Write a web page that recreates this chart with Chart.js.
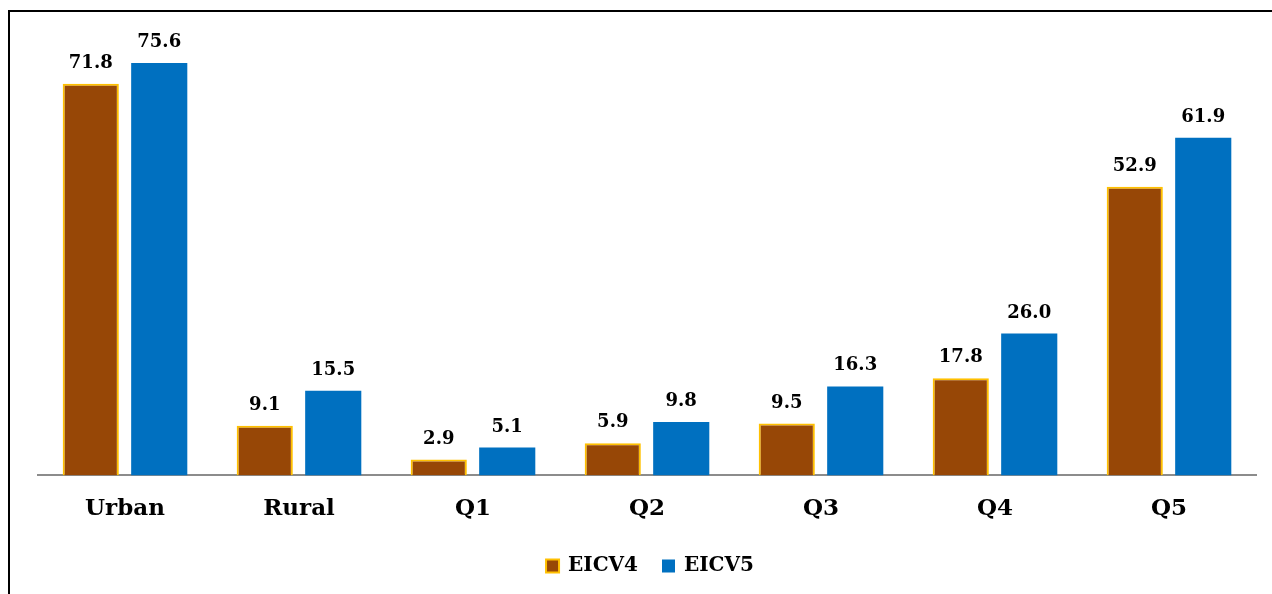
<!DOCTYPE html>
<html>
<head>
<meta charset="utf-8">
<script src="https://cdn.jsdelivr.net/npm/chart.js@4.4.0/dist/chart.umd.min.js"></script>
<style>
  html, body { margin: 0; padding: 0; background: #fff; }
  #wrap { position: relative; width: 1272px; height: 594px; overflow: hidden; }
  #frame { position: absolute; left: 8px; top: 10px; right: -10px; bottom: -10px;
           border-left: 2px solid #000; border-top: 2px solid #000; }
  canvas { position: absolute; left: 0; top: 0; }
</style>
</head>
<body>
<div id="wrap">
  <div id="frame"></div>
  <canvas id="chart" width="1272" height="594"></canvas>
</div>
<script>
const categories = ["Urban", "Rural", "Q1", "Q2", "Q3", "Q4", "Q5"];
const eicv4 = [71.8, 9.1, 2.9, 5.9, 9.5, 17.8, 52.9];
const eicv5 = [75.6, 15.5, 5.1, 9.8, 16.3, 26.0, 61.9];

const serif = "'DejaVu Serif', serif";

// value labels above each bar
const valueLabels = {
  id: "valueLabels",
  afterDatasetsDraw(chart) {
    const ctx = chart.ctx;
    ctx.save();
    ctx.font = "bold 18px " + serif;
    ctx.fillStyle = "#000";
    ctx.textAlign = "center";
    ctx.textBaseline = "alphabetic";
    chart.data.datasets.forEach(function (ds, i) {
      chart.getDatasetMeta(i).data.forEach(function (bar, j) {
        ctx.fillText(ds.data[j].toFixed(1), bar.x, bar.y - 16);
      });
    });
    ctx.restore();
  }
};

// legend under the axis labels, drawn by hand to get the spacing right
const bottomLegend = {
  id: "bottomLegend",
  afterDraw(chart) {
    const ctx = chart.ctx;
    const area = chart.chartArea;
    const box = 13, gap = 24, yMid = 566;
    ctx.save();
    ctx.font = "bold 20px " + serif;
    ctx.textBaseline = "middle";
    ctx.textAlign = "left";
    const items = chart.data.datasets.map(function (ds) {
      return { ds: ds, w: box + 9 + ctx.measureText(ds.label).width };
    });
    let total = items.reduce(function (s, it) { return s + it.w; }, 0) + gap * (items.length - 1);
    let x = (area.left + area.right) / 2 + 3 - total / 2;
    items.forEach(function (it) {
      ctx.fillStyle = it.ds.backgroundColor;
      ctx.fillRect(x, yMid - box / 2, box, box);
      if (it.ds.borderWidth) {
        ctx.strokeStyle = it.ds.borderColor;
        ctx.lineWidth = 2;
        ctx.strokeRect(x, yMid - box / 2, box, box);
      }
      ctx.fillStyle = "#000";
      ctx.fillText(it.ds.label, x + box + 9, yMid);
      x += it.w + gap;
    });
    ctx.restore();
  }
};

const ctx = document.getElementById("chart").getContext("2d");
new Chart(ctx, {
  type: "bar",
  data: {
    labels: categories,
    datasets: [
      {
        label: "EICV4",
        data: eicv4,
        backgroundColor: "#974706",
        borderColor: "#FFC000",
        borderWidth: 2,
        borderSkipped: "bottom",
        barPercentage: 0.82,
        categoryPercentage: 0.787
      },
      {
        label: "EICV5",
        data: eicv5,
        backgroundColor: "#0070C0",
        borderColor: "#0070C0",
        borderWidth: 0,
        barPercentage: 0.82,
        categoryPercentage: 0.787
      }
    ]
  },
  options: {
    responsive: false,
    animation: false,
    layout: { padding: { left: 38, right: 16, top: 39, bottom: 51 } },
    scales: {
      x: {
        grid: { display: true, drawOnChartArea: false, drawTicks: false },
        border: { display: true, color: "#8c8c8c", width: 2 },
        ticks: { color: "#000", padding: 20, font: { family: serif, size: 23, weight: "bold" } }
      },
      y: {
        display: false,
        min: 0,
        max: 80
      }
    },
    plugins: {
      legend: { display: false },
      tooltip: { enabled: false }
    }
  },
  plugins: [valueLabels, bottomLegend]
});
</script>
</body>
</html>
